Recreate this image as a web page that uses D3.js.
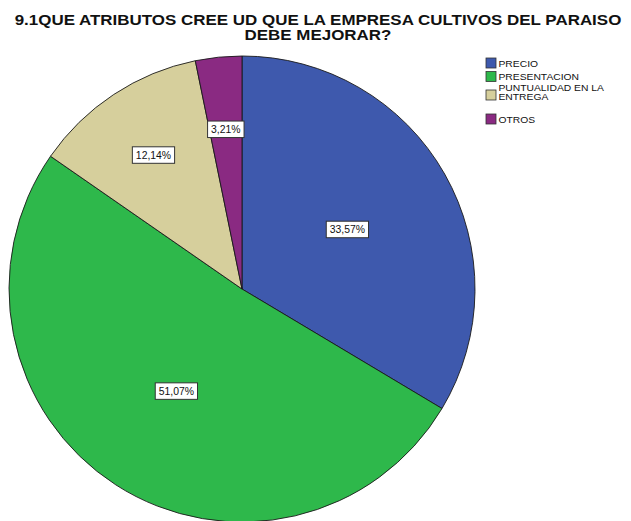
<!DOCTYPE html>
<html>
<head>
<meta charset="utf-8">
<script src="https://cdn.jsdelivr.net/npm/d3@7"></script>
<style>
  html, body { margin: 0; padding: 0; background: #fff; }
  svg { display: block; font-family: Arial, "Liberation Sans", sans-serif; }
</style>
</head>
<body>
<svg id="chart" width="631" height="521"></svg>
<script>
// Survey answers: which attributes should the company improve
const categories = ["PRECIO", "PRESENTACION", "PUNTUALIDAD EN LA ENTREGA", "OTROS"];
const legendLines = [["PRECIO"], ["PRESENTACION"], ["PUNTUALIDAD EN LA", "ENTREGA"], ["OTROS"]];
const percents = [33.57, 51.07, 12.14, 3.21];
const colors = ["#3e59ad", "#2eb84b", "#d6cf9c", "#8a2a82"];
const titleLines = ["9.1QUE ATRIBUTOS CREE UD QUE LA EMPRESA CULTIVOS DEL PARAISO", "DEBE MEJORAR?"];

const svg = d3.select("#chart");

// Title: wide bold caps, lines set tightly
svg.append("g")
  .attr("transform", "translate(318,0) scale(1.13,1)")
  .selectAll("text")
  .data(titleLines)
  .join("text")
  .attr("x", 0)
  .attr("y", (d, i) => 25.5 + i * 15)
  .attr("text-anchor", "middle")
  .attr("font-weight", "bold")
  .attr("font-size", "15px")
  .attr("fill", "#111")
  .text(d => d);

// Pie
const cx = 242, cy = 289, r = 233;
const data = categories.map((c, i) => ({ cat: c, value: percents[i], color: colors[i] }));
const pie = d3.pie().sort(null).value(d => d.value);
const arc = d3.arc().innerRadius(0).outerRadius(r);
const arcs = pie(data);

const g = svg.append("g").attr("transform", `translate(${cx},${cy})`);
g.selectAll("path")
  .data(arcs)
  .join("path")
  .attr("d", arc)
  .attr("fill", d => d.data.color)
  .attr("stroke", "#1a1a1a")
  .attr("stroke-width", 0.9)
  .attr("stroke-linejoin", "round");

// Percentage labels in boxed callouts
const fmt = v => v.toFixed(2).replace(".", ",") + "%";
const labels = g.selectAll("g.lbl")
  .data(arcs)
  .join("g")
  .attr("class", "lbl")
  .attr("transform", d => {
    const a = (d.startAngle + d.endAngle) / 2;
    const rr = r * (d.data.value > 20 ? 0.52 : 0.69);
    return `translate(${Math.sin(a) * rr},${-Math.cos(a) * rr})`;
  });
labels.each(function(d) {
  const sel = d3.select(this);
  const t = sel.append("text")
    .attr("text-anchor", "middle")
    .attr("dy", "0.36em")
    .attr("font-size", "10.4px")
    .attr("fill", "#111")
    .text(fmt(d.data.value));
  const bb = t.node().getBBox();
  sel.insert("rect", "text")
    .attr("x", bb.x - 3.5)
    .attr("y", -8)
    .attr("width", bb.width + 7)
    .attr("height", 16.5)
    .attr("fill", "#fff")
    .attr("stroke", "#333")
    .attr("stroke-width", 1);
});

// Legend
const legend = svg.append("g").attr("transform", "translate(486,58)");
const rowY = [0, 13.5, 32, 56];
const items = legend.selectAll("g")
  .data(data)
  .join("g")
  .attr("transform", (d, i) => `translate(0,${rowY[i]})`);
items.append("rect")
  .attr("width", 10)
  .attr("height", 10)
  .attr("fill", d => d.color)
  .attr("stroke", "#333")
  .attr("stroke-width", 0.8);
items.each(function(d, i) {
  const lines = legendLines[i];
  d3.select(this).append("g")
    .attr("transform", "translate(12.5,0) scale(1.2,1)")
    .selectAll("text")
    .data(lines)
    .join("text")
    .attr("x", 0)
    .attr("y", (l, j) => (lines.length === 1 ? 9 : 1.3 + j * 9))
    .attr("font-size", "8.6px")
    .attr("fill", "#111")
    .text(l => l);
});
</script>
</body>
</html>
